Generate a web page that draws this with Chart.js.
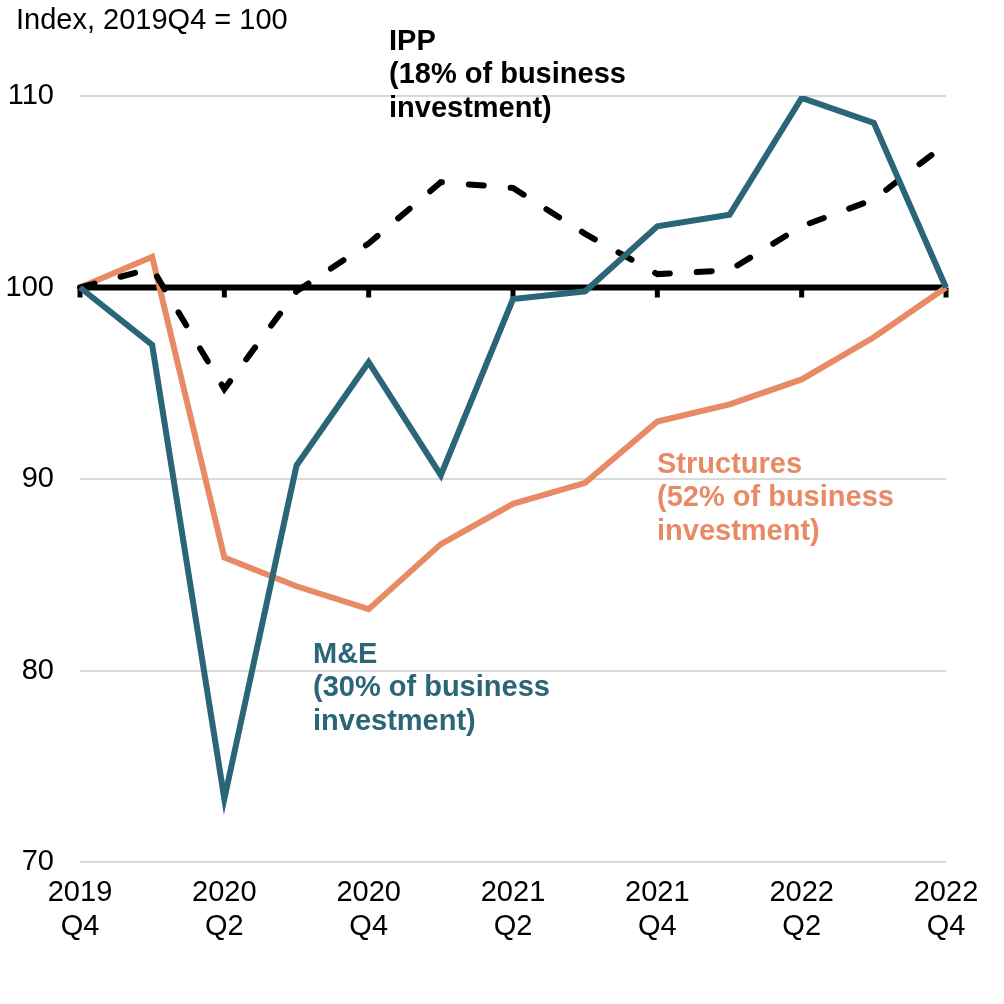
<!DOCTYPE html>
<html>
<head>
<meta charset="utf-8">
<script src="https://cdn.jsdelivr.net/npm/chart.js@4/dist/chart.umd.min.js"></script>
<style>
  html, body { margin: 0; padding: 0; background: #ffffff; }
  #wrap { position: relative; width: 1004px; height: 1004px; }
</style>
</head>
<body>
<div id="wrap"><canvas id="c"></canvas></div>
<script>
// ---- data ----
const quarters = ['2019Q4','2020Q1','2020Q2','2020Q3','2020Q4','2021Q1','2021Q2','2021Q3','2021Q4','2022Q1','2022Q2','2022Q3','2022Q4'];
const tickLabels = [['2019','Q4'], '', ['2020','Q2'], '', ['2020','Q4'], '', ['2021','Q2'], '', ['2021','Q4'], '', ['2022','Q2'], '', ['2022','Q4']];
const meValues = [100, 97.0, 73.3, 90.7, 96.1, 90.2, 99.4, 99.8, 103.2, 103.8, 109.9, 108.6, 100];
const structuresValues = [100, 101.6, 85.9, 84.4, 83.2, 86.6, 88.7, 89.8, 93.0, 93.9, 95.2, 97.4, 100];
const ippValues = [100, 101.0, 94.7, 99.8, 102.3, 105.5, 105.2, 102.8, 100.7, 100.9, 103.2, 104.6, 107.5];
const yTicks = [70, 80, 90, 100, 110];
const baseValue = 100;
const axisTitle = 'Index, 2019Q4 = 100';
const ippLabel = ['IPP', '(18% of business', 'investment)'];
const meLabel = ['M&E', '(30% of business', 'investment)'];
const structuresLabel = ['Structures', '(52% of business', 'investment)'];

const TEAL = '#2a6578';
const ORANGE = '#e88a66';
const FONT = '"Liberation Sans", Arial, sans-serif';

const overlay = {
  id: 'overlay',
  beforeDatasetsDraw(chart) {
    const {ctx, scales: {x, y}, chartArea} = chart;
    const yb = y.getPixelForValue(baseValue);
    ctx.save();
    ctx.strokeStyle = '#000';
    ctx.lineWidth = 5;
    for (let i = 0; i < quarters.length; i += 2) {
      const px = x.getPixelForValue(i);
      ctx.beginPath();
      ctx.moveTo(px, yb);
      ctx.lineTo(px, yb + 10);
      ctx.stroke();
    }
    ctx.lineWidth = 6;
    ctx.beginPath();
    ctx.moveTo(chartArea.left, yb);
    ctx.lineTo(chartArea.right, yb);
    ctx.stroke();
    ctx.restore();
  },
  afterDraw(chart) {
    const {ctx} = chart;
    ctx.save();
    ctx.textBaseline = 'alphabetic';
    ctx.textAlign = 'left';
    ctx.fillStyle = '#000';
    ctx.font = '29px ' + FONT;
    ctx.fillText(axisTitle, 16, 29);
    ctx.font = 'bold 29px ' + FONT;
    const block = (lines, x0, y0, color) => {
      ctx.fillStyle = color;
      lines.forEach((t, i) => ctx.fillText(t, x0, y0 + i * 33.3));
    };
    block(ippLabel, 389, 50, '#000');
    block(meLabel, 313, 663, TEAL);
    block(structuresLabel, 657, 473, ORANGE);
    ctx.restore();
  }
};

new Chart(document.getElementById('c'), {
  type: 'line',
  data: {
    labels: quarters,
    datasets: [
      { label: 'Structures', data: structuresValues, borderColor: ORANGE, borderWidth: 6, pointRadius: 0, tension: 0, order: 3 },
      { label: 'IPP', data: ippValues, borderColor: '#000', borderWidth: 6, borderDash: [15, 27], borderCapStyle: 'round', pointRadius: 0, tension: 0, order: 2 },
      { label: 'M&E', data: meValues, borderColor: TEAL, borderWidth: 6, pointRadius: 0, tension: 0, order: 1 }
    ]
  },
  options: {
    responsive: true,
    maintainAspectRatio: false,
    animation: false,
    devicePixelRatio: 1,
    layout: { padding: { left: 0, right: 58, top: 96, bottom: 0 } },
    plugins: { legend: { display: false }, tooltip: { enabled: false }, title: { display: false } },
    scales: {
      x: {
        type: 'category',
        offset: false,
        grid: { display: false, drawTicks: false },
        border: { display: false },
        ticks: {
          autoSkip: false, maxRotation: 0, minRotation: 0, padding: 14,
          color: '#000', font: { family: FONT, size: 29, lineHeight: 1.17 },
          callback: (v, i) => tickLabels[i]
        },
        afterFit(scale) { scale.height = 1004 - 862; }
      },
      y: {
        min: 70, max: 110,
        afterBuildTicks(scale) { scale.ticks = yTicks.map(v => ({ value: v })); },
        grid: { color: '#d9d9d9', lineWidth: 2, drawTicks: false },
        border: { display: false },
        ticks: { color: '#000', padding: 26, font: { family: FONT, size: 29 } },
        afterFit(scale) { scale.width = 80; }
      }
    }
  },
  plugins: [overlay]
});
</script>
</body>
</html>
